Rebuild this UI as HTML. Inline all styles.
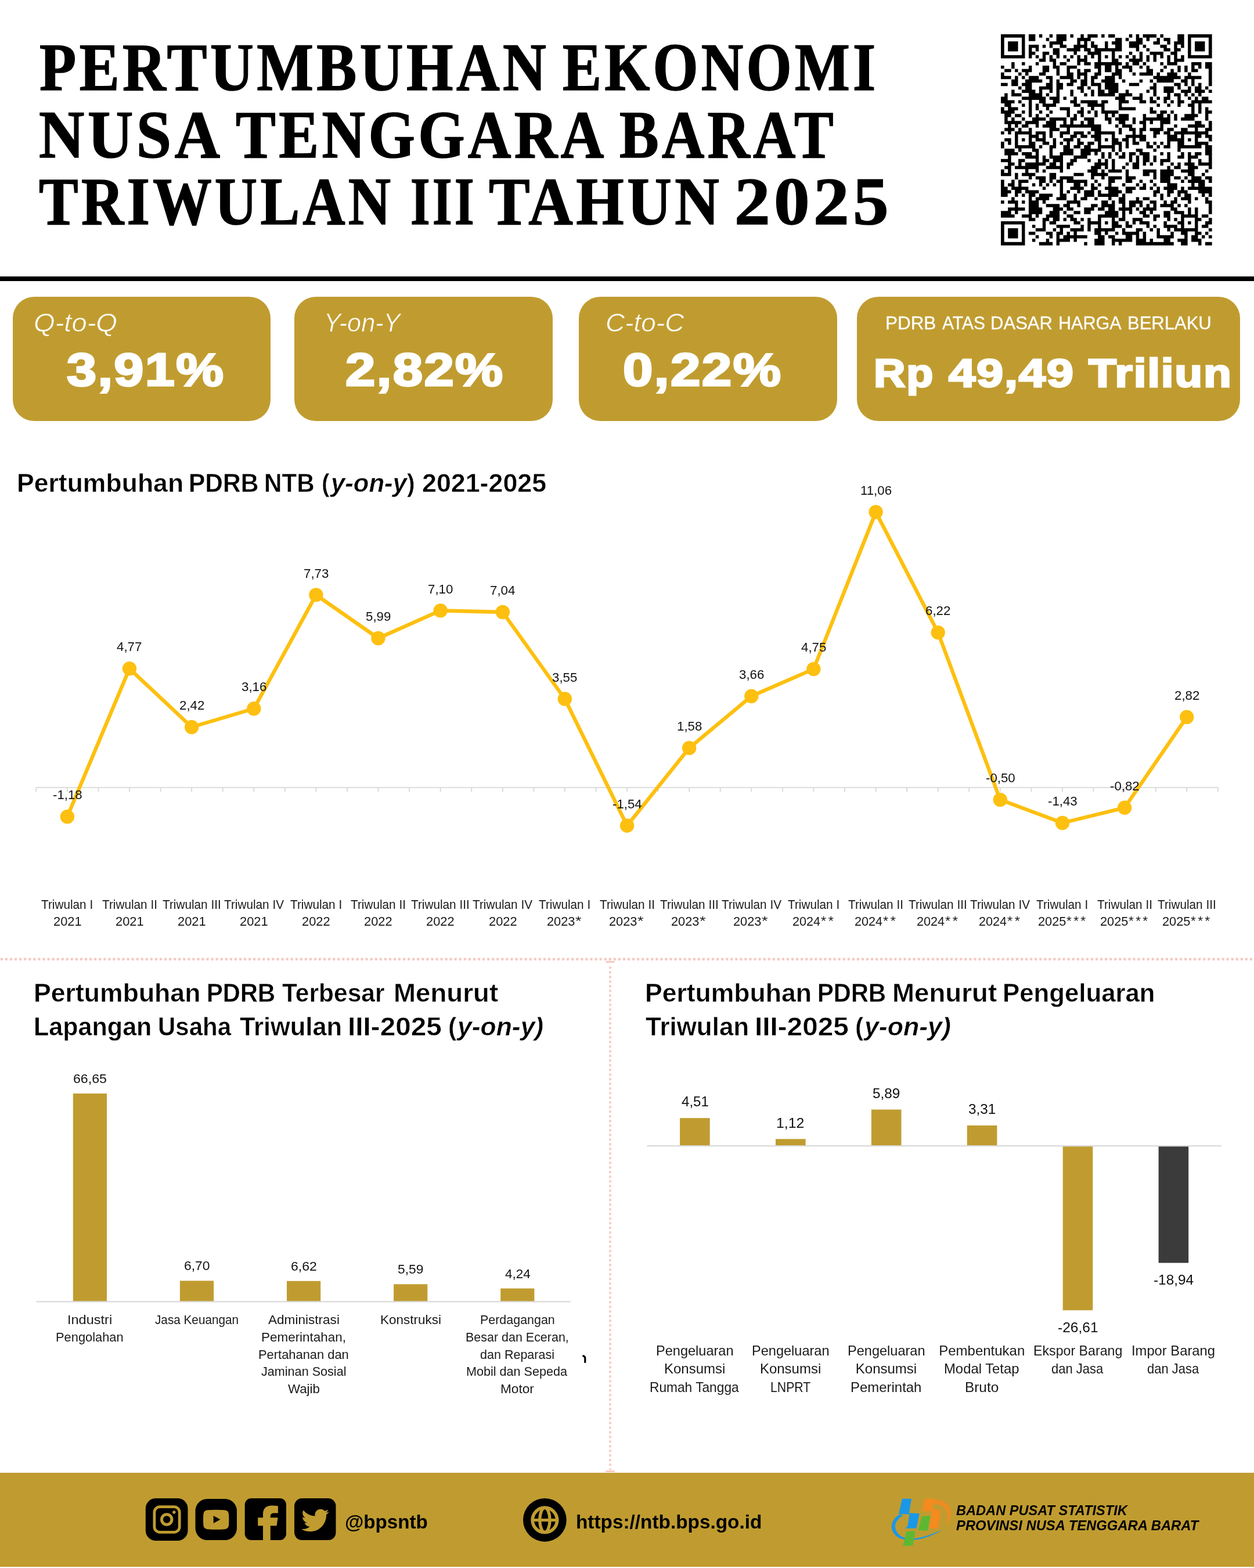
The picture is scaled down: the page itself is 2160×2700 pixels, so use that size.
<!DOCTYPE html>
<html lang="id">
<head>
<meta charset="utf-8">
<title>Pertumbuhan Ekonomi Nusa Tenggara Barat Triwulan III Tahun 2025</title>
<style>
html,body{margin:0;padding:0;background:#fff}
body{width:2160px;height:2700px;position:relative;overflow:hidden;font-family:'Liberation Sans',sans-serif;color:#000}
header,section,footer,h1,h2,p,figure{margin:0;padding:0;font-weight:400;font-size:0}
.t{position:absolute;white-space:nowrap;line-height:1;transform-origin:0 50%;display:block}
.r{position:absolute}
svg{position:absolute;left:0;top:0;overflow:visible}
</style>
</head>
<body>
<header>
<h1>
<span class="t" style="left:67.5px;top:58.4px;font-size:116.0px;font-family:'Liberation Serif',serif;font-weight:700;letter-spacing:6px;transform:scaleX(0.8930);-webkit-text-stroke:1.6px #000;stroke-linejoin:round;">PERTUMBUHAN</span>
<span class="t" style="left:969.4px;top:58.4px;font-size:116.0px;font-family:'Liberation Serif',serif;font-weight:700;letter-spacing:6px;transform:scaleX(0.8659);-webkit-text-stroke:1.6px #000;stroke-linejoin:round;">EKONOMI</span>
<span class="t" style="left:67.1px;top:173.5px;font-size:116.0px;font-family:'Liberation Serif',serif;font-weight:700;letter-spacing:6px;transform:scaleX(0.9344);-webkit-text-stroke:1.6px #000;stroke-linejoin:round;">NUSA</span>
<span class="t" style="left:406.2px;top:173.5px;font-size:116.0px;font-family:'Liberation Serif',serif;font-weight:700;letter-spacing:6px;transform:scaleX(0.8906);-webkit-text-stroke:1.6px #000;stroke-linejoin:round;">TENGGARA</span>
<span class="t" style="left:1066.8px;top:173.5px;font-size:116.0px;font-family:'Liberation Serif',serif;font-weight:700;letter-spacing:6px;transform:scaleX(0.8748);-webkit-text-stroke:1.6px #000;stroke-linejoin:round;">BARAT</span>
<span class="t" style="left:67.1px;top:289.4px;font-size:116.0px;font-family:'Liberation Serif',serif;font-weight:700;letter-spacing:6px;transform:scaleX(0.8746);-webkit-text-stroke:1.6px #000;stroke-linejoin:round;">TRIWULAN</span>
<span class="t" style="left:706.7px;top:289.4px;font-size:116.0px;font-family:'Liberation Serif',serif;font-weight:700;letter-spacing:6px;transform:scaleX(0.7427);-webkit-text-stroke:1.6px #000;stroke-linejoin:round;">III</span>
<span class="t" style="left:841.8px;top:289.4px;font-size:116.0px;font-family:'Liberation Serif',serif;font-weight:700;letter-spacing:6px;transform:scaleX(0.9138);-webkit-text-stroke:1.6px #000;stroke-linejoin:round;">TAHUN</span>
<span class="t" style="left:1265.2px;top:289.4px;font-size:116.0px;font-family:'Liberation Serif',serif;font-weight:700;letter-spacing:6px;transform:scaleX(1.0624);-webkit-text-stroke:1.6px #000;stroke-linejoin:round;">2025</span>
</h1>
<svg width="363.6" height="363.6" viewBox="0 0 61 61" style="left:1723.7px;top:58.7px"><rect width="61" height="61" fill="#000"/><path fill="#fff" d="M6.96 -0.50H8.04V1.04H6.96zM9.96 -0.50H11.04V1.04H9.96zM11.96 -0.50H14.04V1.04H11.96zM14.96 -0.50H16.04V1.04H14.96zM18.96 -0.50H20.04V1.04H18.96zM20.96 -0.50H23.04V1.04H20.96zM23.96 -0.50H25.04V1.04H23.96zM27.96 -0.50H29.04V1.04H27.96zM29.96 -0.50H31.04V1.04H29.96zM32.96 -0.50H37.04V1.04H32.96zM37.96 -0.50H39.04V1.04H37.96zM39.96 -0.50H41.04V1.04H39.96zM44.96 -0.50H46.04V1.04H44.96zM46.96 -0.50H51.04V1.04H46.96zM52.96 -0.50H54.04V1.04H52.96zM0.96 0.96H6.04V2.04H0.96zM6.96 0.96H8.04V2.04H6.96zM9.96 0.96H13.04V2.04H9.96zM13.96 0.96H16.04V2.04H13.96zM18.96 0.96H22.04V2.04H18.96zM25.96 0.96H33.04V2.04H25.96zM34.96 0.96H36.04V2.04H34.96zM36.96 0.96H39.04V2.04H36.96zM40.96 0.96H42.04V2.04H40.96zM42.96 0.96H45.04V2.04H42.96zM45.96 0.96H47.04V2.04H45.96zM48.96 0.96H51.04V2.04H48.96zM52.96 0.96H54.04V2.04H52.96zM54.96 0.96H60.04V2.04H54.96zM0.96 1.96H2.04V3.04H0.96zM4.96 1.96H6.04V3.04H4.96zM6.96 1.96H14.04V3.04H6.96zM17.96 1.96H22.04V3.04H17.96zM22.96 1.96H24.04V3.04H22.96zM24.96 1.96H26.04V3.04H24.96zM26.96 1.96H30.04V3.04H26.96zM30.96 1.96H32.04V3.04H30.96zM34.96 1.96H37.04V3.04H34.96zM40.96 1.96H44.04V3.04H40.96zM45.96 1.96H48.04V3.04H45.96zM48.96 1.96H50.04V3.04H48.96zM52.96 1.96H54.04V3.04H52.96zM54.96 1.96H56.04V3.04H54.96zM58.96 1.96H60.04V3.04H58.96zM0.96 2.96H2.04V4.04H0.96zM4.96 2.96H6.04V4.04H4.96zM6.96 2.96H8.04V4.04H6.96zM10.96 2.96H12.04V4.04H10.96zM12.96 2.96H14.04V4.04H12.96zM14.96 2.96H17.04V4.04H14.96zM18.96 2.96H21.04V4.04H18.96zM24.96 2.96H26.04V4.04H24.96zM27.96 2.96H30.04V4.04H27.96zM30.96 2.96H33.04V4.04H30.96zM34.96 2.96H37.04V4.04H34.96zM39.96 2.96H41.04V4.04H39.96zM41.96 2.96H46.04V4.04H41.96zM47.96 2.96H50.04V4.04H47.96zM50.96 2.96H52.04V4.04H50.96zM52.96 2.96H54.04V4.04H52.96zM54.96 2.96H56.04V4.04H54.96zM58.96 2.96H60.04V4.04H58.96zM0.96 3.96H2.04V5.04H0.96zM4.96 3.96H6.04V5.04H4.96zM6.96 3.96H8.04V5.04H6.96zM8.96 3.96H10.04V5.04H8.96zM10.96 3.96H15.04V5.04H10.96zM16.96 3.96H19.04V5.04H16.96zM22.96 3.96H24.04V5.04H22.96zM25.96 3.96H27.04V5.04H25.96zM34.96 3.96H39.04V5.04H34.96zM39.96 3.96H42.04V5.04H39.96zM42.96 3.96H47.04V5.04H42.96zM48.96 3.96H50.04V5.04H48.96zM51.96 3.96H54.04V5.04H51.96zM54.96 3.96H56.04V5.04H54.96zM58.96 3.96H60.04V5.04H58.96zM0.96 4.96H6.04V6.04H0.96zM6.96 4.96H8.04V6.04H6.96zM9.96 4.96H12.04V6.04H9.96zM13.96 4.96H15.04V6.04H13.96zM16.96 4.96H21.04V6.04H16.96zM21.96 4.96H25.04V6.04H21.96zM28.96 4.96H32.04V6.04H28.96zM32.96 4.96H37.04V6.04H32.96zM37.96 4.96H40.04V6.04H37.96zM40.96 4.96H43.04V6.04H40.96zM46.96 4.96H49.04V6.04H46.96zM50.96 4.96H54.04V6.04H50.96zM54.96 4.96H60.04V6.04H54.96zM6.96 5.96H8.04V7.04H6.96zM8.96 5.96H10.04V7.04H8.96zM10.96 5.96H12.04V7.04H10.96zM12.96 5.96H14.04V7.04H12.96zM14.96 5.96H16.04V7.04H14.96zM16.96 5.96H18.04V7.04H16.96zM18.96 5.96H20.04V7.04H18.96zM20.96 5.96H22.04V7.04H20.96zM22.96 5.96H24.04V7.04H22.96zM24.96 5.96H26.04V7.04H24.96zM26.96 5.96H28.04V7.04H26.96zM28.96 5.96H30.04V7.04H28.96zM30.96 5.96H32.04V7.04H30.96zM32.96 5.96H34.04V7.04H32.96zM34.96 5.96H36.04V7.04H34.96zM36.96 5.96H38.04V7.04H36.96zM38.96 5.96H40.04V7.04H38.96zM40.96 5.96H42.04V7.04H40.96zM42.96 5.96H44.04V7.04H42.96zM44.96 5.96H46.04V7.04H44.96zM46.96 5.96H48.04V7.04H46.96zM48.96 5.96H50.04V7.04H48.96zM50.96 5.96H52.04V7.04H50.96zM52.96 5.96H54.04V7.04H52.96zM-0.50 6.96H11.04V8.04H-0.50zM12.96 6.96H14.04V8.04H12.96zM15.96 6.96H19.04V8.04H15.96zM19.96 6.96H22.04V8.04H19.96zM24.96 6.96H28.04V8.04H24.96zM28.96 6.96H32.04V8.04H28.96zM33.96 6.96H37.04V8.04H33.96zM40.96 6.96H42.04V8.04H40.96zM42.96 6.96H44.04V8.04H42.96zM44.96 6.96H48.04V8.04H44.96zM48.96 6.96H50.04V8.04H48.96zM52.96 6.96H61.50V8.04H52.96zM-0.50 7.96H3.04V9.04H-0.50zM3.96 7.96H6.04V9.04H3.96zM6.96 7.96H10.04V9.04H6.96zM10.96 7.96H15.04V9.04H10.96zM15.96 7.96H17.04V9.04H15.96zM18.96 7.96H22.04V9.04H18.96zM22.96 7.96H24.04V9.04H22.96zM25.96 7.96H27.04V9.04H25.96zM34.96 7.96H36.04V9.04H34.96zM36.96 7.96H38.04V9.04H36.96zM39.96 7.96H41.04V9.04H39.96zM41.96 7.96H46.04V9.04H41.96zM46.96 7.96H48.04V9.04H46.96zM50.96 7.96H55.04V9.04H50.96zM57.96 7.96H59.04V9.04H57.96zM0.96 8.96H3.04V10.04H0.96zM3.96 8.96H8.04V10.04H3.96zM8.96 8.96H12.04V10.04H8.96zM13.96 8.96H15.04V10.04H13.96zM16.96 8.96H19.04V10.04H16.96zM21.96 8.96H27.04V10.04H21.96zM28.96 8.96H30.04V10.04H28.96zM31.96 8.96H33.04V10.04H31.96zM33.96 8.96H35.04V10.04H33.96zM37.96 8.96H40.04V10.04H37.96zM40.96 8.96H42.04V10.04H40.96zM42.96 8.96H47.04V10.04H42.96zM47.96 8.96H51.04V10.04H47.96zM51.96 8.96H53.04V10.04H51.96zM53.96 8.96H55.04V10.04H53.96zM55.96 8.96H57.04V10.04H55.96zM57.96 8.96H59.04V10.04H57.96zM-0.50 9.96H1.04V11.04H-0.50zM2.96 9.96H4.04V11.04H2.96zM4.96 9.96H6.04V11.04H4.96zM8.96 9.96H12.04V11.04H8.96zM13.96 9.96H16.04V11.04H13.96zM16.96 9.96H19.04V11.04H16.96zM19.96 9.96H22.04V11.04H19.96zM22.96 9.96H24.04V11.04H22.96zM25.96 9.96H28.04V11.04H25.96zM28.96 9.96H30.04V11.04H28.96zM31.96 9.96H33.04V11.04H31.96zM34.96 9.96H37.04V11.04H34.96zM37.96 9.96H42.04V11.04H37.96zM43.96 9.96H46.04V11.04H43.96zM46.96 9.96H49.04V11.04H46.96zM49.96 9.96H51.04V11.04H49.96zM51.96 9.96H53.04V11.04H51.96zM53.96 9.96H55.04V11.04H53.96zM56.96 9.96H60.04V11.04H56.96zM0.96 10.96H5.04V12.04H0.96zM5.96 10.96H7.04V12.04H5.96zM7.96 10.96H11.04V12.04H7.96zM12.96 10.96H16.04V12.04H12.96zM16.96 10.96H19.04V12.04H16.96zM20.96 10.96H22.04V12.04H20.96zM24.96 10.96H27.04V12.04H24.96zM28.96 10.96H32.04V12.04H28.96zM34.96 10.96H38.04V12.04H34.96zM38.96 10.96H40.04V12.04H38.96zM43.96 10.96H45.04V12.04H43.96zM45.96 10.96H48.04V12.04H45.96zM50.96 10.96H54.04V12.04H50.96zM54.96 10.96H60.04V12.04H54.96zM2.96 11.96H4.04V13.04H2.96zM4.96 11.96H6.04V13.04H4.96zM6.96 11.96H8.04V13.04H6.96zM10.96 11.96H13.04V13.04H10.96zM14.96 11.96H17.04V13.04H14.96zM20.96 11.96H22.04V13.04H20.96zM22.96 11.96H24.04V13.04H22.96zM24.96 11.96H26.04V13.04H24.96zM27.96 11.96H30.04V13.04H27.96zM32.96 11.96H34.04V13.04H32.96zM34.96 11.96H44.04V13.04H34.96zM51.96 11.96H53.04V13.04H51.96zM57.96 11.96H60.04V13.04H57.96zM-0.50 12.96H3.04V14.04H-0.50zM4.96 12.96H7.04V14.04H4.96zM11.96 12.96H14.04V14.04H11.96zM14.96 12.96H16.04V14.04H14.96zM16.96 12.96H20.04V14.04H16.96zM21.96 12.96H23.04V14.04H21.96zM24.96 12.96H26.04V14.04H24.96zM26.96 12.96H29.04V14.04H26.96zM32.96 12.96H35.04V14.04H32.96zM35.96 12.96H40.04V14.04H35.96zM40.96 12.96H43.04V14.04H40.96zM43.96 12.96H45.04V14.04H43.96zM49.96 12.96H52.04V14.04H49.96zM53.96 12.96H55.04V14.04H53.96zM55.96 12.96H60.04V14.04H55.96zM1.96 13.96H3.04V15.04H1.96zM4.96 13.96H6.04V15.04H4.96zM8.96 13.96H13.04V15.04H8.96zM14.96 13.96H16.04V15.04H14.96zM17.96 13.96H19.04V15.04H17.96zM20.96 13.96H23.04V15.04H20.96zM24.96 13.96H26.04V15.04H24.96zM28.96 13.96H30.04V15.04H28.96zM33.96 13.96H37.04V15.04H33.96zM39.96 13.96H44.04V15.04H39.96zM44.96 13.96H50.04V15.04H44.96zM51.96 13.96H53.04V15.04H51.96zM53.96 13.96H55.04V15.04H53.96zM55.96 13.96H57.04V15.04H55.96zM57.96 13.96H60.04V15.04H57.96zM-0.50 14.96H5.04V16.04H-0.50zM5.96 14.96H7.04V16.04H5.96zM8.96 14.96H11.04V16.04H8.96zM14.96 14.96H16.04V16.04H14.96zM17.96 14.96H22.04V16.04H17.96zM23.96 14.96H25.04V16.04H23.96zM25.96 14.96H28.04V16.04H25.96zM28.96 14.96H30.04V16.04H28.96zM33.96 14.96H43.04V16.04H33.96zM44.96 14.96H47.04V16.04H44.96zM49.96 14.96H51.04V16.04H49.96zM51.96 14.96H54.04V16.04H51.96zM54.96 14.96H56.04V16.04H54.96zM57.96 14.96H59.04V16.04H57.96zM59.96 14.96H61.50V16.04H59.96zM-0.50 15.96H3.04V17.04H-0.50zM3.96 15.96H6.04V17.04H3.96zM9.96 15.96H11.04V17.04H9.96zM11.96 15.96H14.04V17.04H11.96zM14.96 15.96H16.04V17.04H14.96zM16.96 15.96H20.04V17.04H16.96zM20.96 15.96H23.04V17.04H20.96zM23.96 15.96H26.04V17.04H23.96zM26.96 15.96H28.04V17.04H26.96zM29.96 15.96H31.04V17.04H29.96zM33.96 15.96H36.04V17.04H33.96zM36.96 15.96H42.04V17.04H36.96zM42.96 15.96H44.04V17.04H42.96zM44.96 15.96H47.04V17.04H44.96zM49.96 15.96H52.04V17.04H49.96zM54.96 15.96H56.04V17.04H54.96zM58.96 15.96H60.04V17.04H58.96zM-0.50 16.96H1.04V18.04H-0.50zM1.96 16.96H3.04V18.04H1.96zM5.96 16.96H8.04V18.04H5.96zM11.96 16.96H13.04V18.04H11.96zM13.96 16.96H16.04V18.04H13.96zM16.96 16.96H20.04V18.04H16.96zM20.96 16.96H24.04V18.04H20.96zM24.96 16.96H26.04V18.04H24.96zM26.96 16.96H28.04V18.04H26.96zM32.96 16.96H34.04V18.04H32.96zM37.96 16.96H40.04V18.04H37.96zM40.96 16.96H44.04V18.04H40.96zM44.96 16.96H48.04V18.04H44.96zM48.96 16.96H50.04V18.04H48.96zM51.96 16.96H53.04V18.04H51.96zM53.96 16.96H55.04V18.04H53.96zM55.96 16.96H57.04V18.04H55.96zM57.96 16.96H61.50V18.04H57.96zM1.96 17.96H6.04V19.04H1.96zM12.96 17.96H14.04V19.04H12.96zM16.96 17.96H18.04V19.04H16.96zM18.96 17.96H21.04V19.04H18.96zM21.96 17.96H33.04V19.04H21.96zM35.96 17.96H38.04V19.04H35.96zM40.96 17.96H43.04V19.04H40.96zM43.96 17.96H45.04V19.04H43.96zM45.96 17.96H47.04V19.04H45.96zM48.96 17.96H51.04V19.04H48.96zM51.96 17.96H54.04V19.04H51.96zM54.96 17.96H56.04V19.04H54.96zM56.96 17.96H58.04V19.04H56.96zM59.96 17.96H61.50V19.04H59.96zM3.96 18.96H5.04V20.04H3.96zM5.96 18.96H8.04V20.04H5.96zM8.96 18.96H11.04V20.04H8.96zM12.96 18.96H15.04V20.04H12.96zM16.96 18.96H20.04V20.04H16.96zM21.96 18.96H23.04V20.04H21.96zM27.96 18.96H29.04V20.04H27.96zM30.96 18.96H34.04V20.04H30.96zM36.96 18.96H40.04V20.04H36.96zM41.96 18.96H43.04V20.04H41.96zM44.96 18.96H47.04V20.04H44.96zM47.96 18.96H49.04V20.04H47.96zM49.96 18.96H51.04V20.04H49.96zM52.96 18.96H55.04V20.04H52.96zM-0.50 19.96H1.04V21.04H-0.50zM2.96 19.96H6.04V21.04H2.96zM6.96 19.96H8.04V21.04H6.96zM8.96 19.96H10.04V21.04H8.96zM10.96 19.96H12.04V21.04H10.96zM15.96 19.96H21.04V21.04H15.96zM22.96 19.96H25.04V21.04H22.96zM29.96 19.96H34.04V21.04H29.96zM34.96 19.96H45.04V21.04H34.96zM45.96 19.96H48.04V21.04H45.96zM48.96 19.96H51.04V21.04H48.96zM51.96 19.96H54.04V21.04H51.96zM55.96 19.96H57.04V21.04H55.96zM57.96 19.96H61.50V21.04H57.96zM0.96 20.96H2.04V22.04H0.96zM4.96 20.96H8.04V22.04H4.96zM8.96 20.96H10.04V22.04H8.96zM10.96 20.96H13.04V22.04H10.96zM13.96 20.96H17.04V22.04H13.96zM19.96 20.96H23.04V22.04H19.96zM23.96 20.96H26.04V22.04H23.96zM26.96 20.96H29.04V22.04H26.96zM29.96 20.96H34.04V22.04H29.96zM38.96 20.96H43.04V22.04H38.96zM43.96 20.96H55.04V22.04H43.96zM55.96 20.96H57.04V22.04H55.96zM57.96 20.96H59.04V22.04H57.96zM59.96 20.96H61.50V22.04H59.96zM3.96 21.96H6.04V23.04H3.96zM6.96 21.96H8.04V23.04H6.96zM8.96 21.96H11.04V23.04H8.96zM11.96 21.96H14.04V23.04H11.96zM14.96 21.96H19.04V23.04H14.96zM19.96 21.96H22.04V23.04H19.96zM23.96 21.96H25.04V23.04H23.96zM25.96 21.96H27.04V23.04H25.96zM27.96 21.96H29.04V23.04H27.96zM33.96 21.96H43.04V23.04H33.96zM44.96 21.96H46.04V23.04H44.96zM47.96 21.96H49.04V23.04H47.96zM49.96 21.96H55.04V23.04H49.96zM55.96 21.96H57.04V23.04H55.96zM57.96 21.96H59.04V23.04H57.96zM-0.50 22.96H1.04V24.04H-0.50zM2.96 22.96H4.04V24.04H2.96zM5.96 22.96H8.04V24.04H5.96zM8.96 22.96H10.04V24.04H8.96zM10.96 22.96H13.04V24.04H10.96zM13.96 22.96H19.04V24.04H13.96zM19.96 22.96H21.04V24.04H19.96zM21.96 22.96H23.04V24.04H21.96zM23.96 22.96H27.04V24.04H23.96zM27.96 22.96H30.04V24.04H27.96zM30.96 22.96H32.04V24.04H30.96zM32.96 22.96H34.04V24.04H32.96zM36.96 22.96H41.04V24.04H36.96zM41.96 22.96H45.04V24.04H41.96zM46.96 22.96H48.04V24.04H46.96zM48.96 22.96H50.04V24.04H48.96zM50.96 22.96H53.04V24.04H50.96zM56.96 22.96H59.04V24.04H56.96zM59.96 22.96H61.50V24.04H59.96zM-0.50 23.96H1.04V25.04H-0.50zM1.96 23.96H3.04V25.04H1.96zM3.96 23.96H6.04V25.04H3.96zM6.96 23.96H9.04V25.04H6.96zM12.96 23.96H14.04V25.04H12.96zM18.96 23.96H20.04V25.04H18.96zM21.96 23.96H24.04V25.04H21.96zM26.96 23.96H30.04V25.04H26.96zM31.96 23.96H33.04V25.04H31.96zM36.96 23.96H38.04V25.04H36.96zM38.96 23.96H41.04V25.04H38.96zM48.96 23.96H50.04V25.04H48.96zM50.96 23.96H52.04V25.04H50.96zM55.96 23.96H59.04V25.04H55.96zM59.96 23.96H61.50V25.04H59.96zM-0.50 24.96H1.04V26.04H-0.50zM5.96 24.96H7.04V26.04H5.96zM10.96 24.96H13.04V26.04H10.96zM15.96 24.96H18.04V26.04H15.96zM18.96 24.96H20.04V26.04H18.96zM20.96 24.96H23.04V26.04H20.96zM23.96 24.96H25.04V26.04H23.96zM26.96 24.96H31.04V26.04H26.96zM31.96 24.96H34.04V26.04H31.96zM35.96 24.96H38.04V26.04H35.96zM38.96 24.96H40.04V26.04H38.96zM41.96 24.96H43.04V26.04H41.96zM43.96 24.96H46.04V26.04H43.96zM48.96 24.96H56.04V26.04H48.96zM57.96 24.96H60.04V26.04H57.96zM-0.50 25.96H2.04V27.04H-0.50zM2.96 25.96H4.04V27.04H2.96zM4.96 25.96H6.04V27.04H4.96zM7.96 25.96H10.04V27.04H7.96zM10.96 25.96H12.04V27.04H10.96zM15.96 25.96H17.04V27.04H15.96zM28.96 25.96H33.04V27.04H28.96zM33.96 25.96H35.04V27.04H33.96zM37.96 25.96H41.04V27.04H37.96zM41.96 25.96H46.04V27.04H41.96zM46.96 25.96H50.04V27.04H46.96zM50.96 25.96H54.04V27.04H50.96zM58.96 25.96H60.04V27.04H58.96zM-0.50 26.96H1.04V28.04H-0.50zM3.96 26.96H5.04V28.04H3.96zM5.96 26.96H8.04V28.04H5.96zM8.96 26.96H14.04V28.04H8.96zM16.96 26.96H19.04V28.04H16.96zM19.96 26.96H26.04V28.04H19.96zM28.96 26.96H34.04V28.04H28.96zM34.96 26.96H37.04V28.04H34.96zM38.96 26.96H40.04V28.04H38.96zM41.96 26.96H43.04V28.04H41.96zM46.96 26.96H48.04V28.04H46.96zM49.96 26.96H52.04V28.04H49.96zM53.96 26.96H56.04V28.04H53.96zM56.96 26.96H59.04V28.04H56.96zM0.96 27.96H2.04V29.04H0.96zM2.96 27.96H4.04V29.04H2.96zM8.96 27.96H10.04V29.04H8.96zM12.96 27.96H14.04V29.04H12.96zM14.96 27.96H17.04V29.04H14.96zM19.96 27.96H21.04V29.04H19.96zM23.96 27.96H25.04V29.04H23.96zM25.96 27.96H27.04V29.04H25.96zM32.96 27.96H34.04V29.04H32.96zM34.96 27.96H38.04V29.04H34.96zM38.96 27.96H40.04V29.04H38.96zM40.96 27.96H44.04V29.04H40.96zM45.96 27.96H47.04V29.04H45.96zM48.96 27.96H50.04V29.04H48.96zM59.96 27.96H61.50V29.04H59.96zM-0.50 28.96H4.04V30.04H-0.50zM4.96 28.96H8.04V30.04H4.96zM10.96 28.96H12.04V30.04H10.96zM12.96 28.96H14.04V30.04H12.96zM14.96 28.96H17.04V30.04H14.96zM17.96 28.96H20.04V30.04H17.96zM21.96 28.96H23.04V30.04H21.96zM24.96 28.96H26.04V30.04H24.96zM28.96 28.96H32.04V30.04H28.96zM32.96 28.96H36.04V30.04H32.96zM41.96 28.96H44.04V30.04H41.96zM44.96 28.96H48.04V30.04H44.96zM50.96 28.96H52.04V30.04H50.96zM52.96 28.96H56.04V30.04H52.96zM57.96 28.96H59.04V30.04H57.96zM-0.50 29.96H1.04V31.04H-0.50zM2.96 29.96H4.04V31.04H2.96zM4.96 29.96H6.04V31.04H4.96zM6.96 29.96H8.04V31.04H6.96zM8.96 29.96H10.04V31.04H8.96zM12.96 29.96H15.04V31.04H12.96zM15.96 29.96H18.04V31.04H15.96zM20.96 29.96H22.04V31.04H20.96zM22.96 29.96H27.04V31.04H22.96zM28.96 29.96H30.04V31.04H28.96zM30.96 29.96H32.04V31.04H30.96zM33.96 29.96H35.04V31.04H33.96zM36.96 29.96H38.04V31.04H36.96zM38.96 29.96H40.04V31.04H38.96zM41.96 29.96H48.04V31.04H41.96zM52.96 29.96H54.04V31.04H52.96zM54.96 29.96H56.04V31.04H54.96zM56.96 29.96H60.04V31.04H56.96zM0.96 30.96H2.04V32.04H0.96zM2.96 30.96H4.04V32.04H2.96zM4.96 30.96H8.04V32.04H4.96zM9.96 30.96H12.04V32.04H9.96zM13.96 30.96H15.04V32.04H13.96zM15.96 30.96H17.04V32.04H15.96zM17.96 30.96H19.04V32.04H17.96zM19.96 30.96H22.04V32.04H19.96zM23.96 30.96H25.04V32.04H23.96zM26.96 30.96H28.04V32.04H26.96zM28.96 30.96H32.04V32.04H28.96zM34.96 30.96H36.04V32.04H34.96zM36.96 30.96H38.04V32.04H36.96zM39.96 30.96H42.04V32.04H39.96zM42.96 30.96H44.04V32.04H42.96zM44.96 30.96H46.04V32.04H44.96zM46.96 30.96H48.04V32.04H46.96zM48.96 30.96H51.04V32.04H48.96zM52.96 30.96H56.04V32.04H52.96zM59.96 30.96H61.50V32.04H59.96zM0.96 31.96H4.04V33.04H0.96zM9.96 31.96H11.04V33.04H9.96zM11.96 31.96H14.04V33.04H11.96zM15.96 31.96H18.04V33.04H15.96zM19.96 31.96H21.04V33.04H19.96zM22.96 31.96H24.04V33.04H22.96zM25.96 31.96H28.04V33.04H25.96zM32.96 31.96H34.04V33.04H32.96zM34.96 31.96H36.04V33.04H34.96zM36.96 31.96H42.04V33.04H36.96zM43.96 31.96H45.04V33.04H43.96zM45.96 31.96H47.04V33.04H45.96zM48.96 31.96H51.04V33.04H48.96zM57.96 31.96H59.04V33.04H57.96zM-0.50 32.96H1.04V34.04H-0.50zM3.96 32.96H5.04V34.04H3.96zM5.96 32.96H9.04V34.04H5.96zM10.96 32.96H14.04V34.04H10.96zM14.96 32.96H18.04V34.04H14.96zM20.96 32.96H23.04V34.04H20.96zM28.96 32.96H32.04V34.04H28.96zM32.96 32.96H34.04V34.04H32.96zM34.96 32.96H39.04V34.04H34.96zM40.96 32.96H44.04V34.04H40.96zM44.96 32.96H51.04V34.04H44.96zM51.96 32.96H59.04V34.04H51.96zM-0.50 33.96H1.04V35.04H-0.50zM4.96 33.96H6.04V35.04H4.96zM8.96 33.96H10.04V35.04H8.96zM10.96 33.96H14.04V35.04H10.96zM14.96 33.96H17.04V35.04H14.96zM20.96 33.96H23.04V35.04H20.96zM25.96 33.96H27.04V35.04H25.96zM27.96 33.96H29.04V35.04H27.96zM29.96 33.96H31.04V35.04H29.96zM31.96 33.96H33.04V35.04H31.96zM33.96 33.96H35.04V35.04H33.96zM35.96 33.96H37.04V35.04H35.96zM38.96 33.96H40.04V35.04H38.96zM42.96 33.96H46.04V35.04H42.96zM46.96 33.96H48.04V35.04H46.96zM48.96 33.96H52.04V35.04H48.96zM52.96 33.96H54.04V35.04H52.96zM54.96 33.96H56.04V35.04H54.96zM57.96 33.96H59.04V35.04H57.96zM-0.50 34.96H2.04V36.04H-0.50zM2.96 34.96H7.04V36.04H2.96zM10.96 34.96H12.04V36.04H10.96zM12.96 34.96H14.04V36.04H12.96zM17.96 34.96H21.04V36.04H17.96zM24.96 34.96H29.04V36.04H24.96zM29.96 34.96H31.04V36.04H29.96zM31.96 34.96H34.04V36.04H31.96zM35.96 34.96H37.04V36.04H35.96zM37.96 34.96H39.04V36.04H37.96zM39.96 34.96H41.04V36.04H39.96zM42.96 34.96H44.04V36.04H42.96zM44.96 34.96H48.04V36.04H44.96zM48.96 34.96H51.04V36.04H48.96zM52.96 34.96H54.04V36.04H52.96zM56.96 34.96H60.04V36.04H56.96zM2.96 35.96H5.04V37.04H2.96zM6.96 35.96H10.04V37.04H6.96zM10.96 35.96H12.04V37.04H10.96zM13.96 35.96H15.04V37.04H13.96zM17.96 35.96H20.04V37.04H17.96zM21.96 35.96H25.04V37.04H21.96zM25.96 35.96H28.04V37.04H25.96zM28.96 35.96H30.04V37.04H28.96zM30.96 35.96H32.04V37.04H30.96zM32.96 35.96H37.04V37.04H32.96zM37.96 35.96H39.04V37.04H37.96zM39.96 35.96H41.04V37.04H39.96zM42.96 35.96H44.04V37.04H42.96zM44.96 35.96H46.04V37.04H44.96zM48.96 35.96H54.04V37.04H48.96zM54.96 35.96H57.04V37.04H54.96zM57.96 35.96H60.04V37.04H57.96zM-0.50 36.96H2.04V38.04H-0.50zM3.96 36.96H5.04V38.04H3.96zM5.96 36.96H7.04V38.04H5.96zM12.96 36.96H14.04V38.04H12.96zM15.96 36.96H17.04V38.04H15.96zM17.96 36.96H19.04V38.04H17.96zM20.96 36.96H27.04V38.04H20.96zM30.96 36.96H32.04V38.04H30.96zM32.96 36.96H36.04V38.04H32.96zM36.96 36.96H38.04V38.04H36.96zM39.96 36.96H41.04V38.04H39.96zM41.96 36.96H43.04V38.04H41.96zM43.96 36.96H46.04V38.04H43.96zM46.96 36.96H49.04V38.04H46.96zM49.96 36.96H51.04V38.04H49.96zM51.96 36.96H53.04V38.04H51.96zM55.96 36.96H57.04V38.04H55.96zM-0.50 37.96H1.04V39.04H-0.50zM2.96 37.96H4.04V39.04H2.96zM10.96 37.96H13.04V39.04H10.96zM17.96 37.96H19.04V39.04H17.96zM19.96 37.96H26.04V39.04H19.96zM28.96 37.96H30.04V39.04H28.96zM30.96 37.96H32.04V39.04H30.96zM32.96 37.96H35.04V39.04H32.96zM35.96 37.96H38.04V39.04H35.96zM39.96 37.96H48.04V39.04H39.96zM48.96 37.96H50.04V39.04H48.96zM51.96 37.96H54.04V39.04H51.96zM56.96 37.96H60.04V39.04H56.96zM0.96 38.96H2.04V40.04H0.96zM2.96 38.96H7.04V40.04H2.96zM7.96 38.96H10.04V40.04H7.96zM10.96 38.96H12.04V40.04H10.96zM12.96 38.96H17.04V40.04H12.96zM17.96 38.96H25.04V40.04H17.96zM27.96 38.96H29.04V40.04H27.96zM29.96 38.96H31.04V40.04H29.96zM34.96 38.96H36.04V40.04H34.96zM36.96 38.96H41.04V40.04H36.96zM44.96 38.96H46.04V40.04H44.96zM49.96 38.96H52.04V40.04H49.96zM55.96 38.96H59.04V40.04H55.96zM59.96 38.96H61.50V40.04H59.96zM2.96 39.96H4.04V41.04H2.96zM4.96 39.96H6.04V41.04H4.96zM9.96 39.96H14.04V41.04H9.96zM15.96 39.96H21.04V41.04H15.96zM23.96 39.96H26.04V41.04H23.96zM30.96 39.96H36.04V41.04H30.96zM36.96 39.96H41.04V41.04H36.96zM42.96 39.96H44.04V41.04H42.96zM44.96 39.96H46.04V41.04H44.96zM49.96 39.96H54.04V41.04H49.96zM55.96 39.96H58.04V41.04H55.96zM58.96 39.96H61.50V41.04H58.96zM-0.50 40.96H4.04V42.04H-0.50zM4.96 40.96H8.04V42.04H4.96zM8.96 40.96H10.04V42.04H8.96zM12.96 40.96H14.04V42.04H12.96zM15.96 40.96H17.04V42.04H15.96zM20.96 40.96H26.04V42.04H20.96zM26.96 40.96H29.04V42.04H26.96zM29.96 40.96H31.04V42.04H29.96zM34.96 40.96H36.04V42.04H34.96zM38.96 40.96H44.04V42.04H38.96zM44.96 40.96H46.04V42.04H44.96zM48.96 40.96H50.04V42.04H48.96zM51.96 40.96H53.04V42.04H51.96zM53.96 40.96H55.04V42.04H53.96zM57.96 40.96H59.04V42.04H57.96zM0.96 41.96H3.04V43.04H0.96zM3.96 41.96H5.04V43.04H3.96zM7.96 41.96H11.04V43.04H7.96zM12.96 41.96H14.04V43.04H12.96zM14.96 41.96H16.04V43.04H14.96zM17.96 41.96H19.04V43.04H17.96zM24.96 41.96H27.04V43.04H24.96zM27.96 41.96H31.04V43.04H27.96zM32.96 41.96H36.04V43.04H32.96zM37.96 41.96H40.04V43.04H37.96zM40.96 41.96H43.04V43.04H40.96zM43.96 41.96H46.04V43.04H43.96zM48.96 41.96H52.04V43.04H48.96zM52.96 41.96H54.04V43.04H52.96zM58.96 41.96H60.04V43.04H58.96zM0.96 42.96H2.04V44.04H0.96zM3.96 42.96H5.04V44.04H3.96zM5.96 42.96H9.04V44.04H5.96zM9.96 42.96H11.04V44.04H9.96zM11.96 42.96H13.04V44.04H11.96zM13.96 42.96H15.04V44.04H13.96zM15.96 42.96H17.04V44.04H15.96zM17.96 42.96H21.04V44.04H17.96zM22.96 42.96H24.04V44.04H22.96zM24.96 42.96H26.04V44.04H24.96zM26.96 42.96H28.04V44.04H26.96zM28.96 42.96H31.04V44.04H28.96zM31.96 42.96H35.04V44.04H31.96zM35.96 42.96H39.04V44.04H35.96zM39.96 42.96H41.04V44.04H39.96zM41.96 42.96H44.04V44.04H41.96zM44.96 42.96H48.04V44.04H44.96zM50.96 42.96H55.04V44.04H50.96zM55.96 42.96H57.04V44.04H55.96zM58.96 42.96H61.50V44.04H58.96zM1.96 43.96H3.04V45.04H1.96zM7.96 43.96H12.04V45.04H7.96zM12.96 43.96H17.04V45.04H12.96zM17.96 43.96H20.04V45.04H17.96zM23.96 43.96H26.04V45.04H23.96zM27.96 43.96H30.04V45.04H27.96zM33.96 43.96H36.04V45.04H33.96zM38.96 43.96H40.04V45.04H38.96zM41.96 43.96H43.04V45.04H41.96zM43.96 43.96H45.04V45.04H43.96zM45.96 43.96H47.04V45.04H45.96zM50.96 43.96H52.04V45.04H50.96zM52.96 43.96H54.04V45.04H52.96zM2.96 44.96H4.04V46.04H2.96zM5.96 44.96H7.04V46.04H5.96zM10.96 44.96H17.04V46.04H10.96zM17.96 44.96H19.04V46.04H17.96zM19.96 44.96H22.04V46.04H19.96zM22.96 44.96H24.04V46.04H22.96zM26.96 44.96H28.04V46.04H26.96zM28.96 44.96H31.04V46.04H28.96zM34.96 44.96H36.04V46.04H34.96zM37.96 44.96H44.04V46.04H37.96zM45.96 44.96H48.04V46.04H45.96zM49.96 44.96H51.04V46.04H49.96zM53.96 44.96H57.04V46.04H53.96zM1.96 45.96H4.04V47.04H1.96zM4.96 45.96H6.04V47.04H4.96zM6.96 45.96H8.04V47.04H6.96zM9.96 45.96H11.04V47.04H9.96zM14.96 45.96H17.04V47.04H14.96zM18.96 45.96H21.04V47.04H18.96zM21.96 45.96H24.04V47.04H21.96zM26.96 45.96H28.04V47.04H26.96zM33.96 45.96H35.04V47.04H33.96zM35.96 45.96H44.04V47.04H35.96zM44.96 45.96H46.04V47.04H44.96zM46.96 45.96H48.04V47.04H46.96zM48.96 45.96H51.04V47.04H48.96zM51.96 45.96H53.04V47.04H51.96zM54.96 45.96H58.04V47.04H54.96zM58.96 45.96H60.04V47.04H58.96zM-0.50 46.96H3.04V48.04H-0.50zM3.96 46.96H8.04V48.04H3.96zM8.96 46.96H10.04V48.04H8.96zM13.96 46.96H16.04V48.04H13.96zM18.96 46.96H21.04V48.04H18.96zM21.96 46.96H23.04V48.04H21.96zM24.96 46.96H27.04V48.04H24.96zM27.96 46.96H31.04V48.04H27.96zM31.96 46.96H34.04V48.04H31.96zM35.96 46.96H39.04V48.04H35.96zM39.96 46.96H41.04V48.04H39.96zM42.96 46.96H46.04V48.04H42.96zM46.96 46.96H50.04V48.04H46.96zM50.96 46.96H52.04V48.04H50.96zM54.96 46.96H56.04V48.04H54.96zM56.96 46.96H59.04V48.04H56.96zM59.96 46.96H61.50V48.04H59.96zM0.96 47.96H2.04V49.04H0.96zM4.96 47.96H6.04V49.04H4.96zM6.96 47.96H8.04V49.04H6.96zM10.96 47.96H12.04V49.04H10.96zM12.96 47.96H19.04V49.04H12.96zM22.96 47.96H29.04V49.04H22.96zM30.96 47.96H32.04V49.04H30.96zM32.96 47.96H34.04V49.04H32.96zM35.96 47.96H37.04V49.04H35.96zM40.96 47.96H43.04V49.04H40.96zM44.96 47.96H47.04V49.04H44.96zM47.96 47.96H49.04V49.04H47.96zM50.96 47.96H54.04V49.04H50.96zM54.96 47.96H59.04V49.04H54.96zM-0.50 48.96H4.04V50.04H-0.50zM4.96 48.96H8.04V50.04H4.96zM10.96 48.96H13.04V50.04H10.96zM16.96 48.96H18.04V50.04H16.96zM19.96 48.96H22.04V50.04H19.96zM22.96 48.96H26.04V50.04H22.96zM27.96 48.96H29.04V50.04H27.96zM32.96 48.96H35.04V50.04H32.96zM35.96 48.96H37.04V50.04H35.96zM38.96 48.96H40.04V50.04H38.96zM40.96 48.96H42.04V50.04H40.96zM42.96 48.96H44.04V50.04H42.96zM44.96 48.96H46.04V50.04H44.96zM49.96 48.96H51.04V50.04H49.96zM51.96 48.96H53.04V50.04H51.96zM53.96 48.96H60.04V50.04H53.96zM-0.50 49.96H2.04V51.04H-0.50zM6.96 49.96H8.04V51.04H6.96zM11.96 49.96H15.04V51.04H11.96zM17.96 49.96H19.04V51.04H17.96zM20.96 49.96H24.04V51.04H20.96zM26.96 49.96H28.04V51.04H26.96zM29.96 49.96H31.04V51.04H29.96zM32.96 49.96H34.04V51.04H32.96zM37.96 49.96H39.04V51.04H37.96zM39.96 49.96H41.04V51.04H39.96zM44.96 49.96H49.04V51.04H44.96zM50.96 49.96H54.04V51.04H50.96zM54.96 49.96H56.04V51.04H54.96zM56.96 49.96H60.04V51.04H56.96zM2.96 50.96H4.04V52.04H2.96zM4.96 50.96H8.04V52.04H4.96zM11.96 50.96H14.04V52.04H11.96zM16.96 50.96H18.04V52.04H16.96zM18.96 50.96H21.04V52.04H18.96zM22.96 50.96H24.04V52.04H22.96zM25.96 50.96H30.04V52.04H25.96zM33.96 50.96H35.04V52.04H33.96zM35.96 50.96H37.04V52.04H35.96zM37.96 50.96H40.04V52.04H37.96zM41.96 50.96H43.04V52.04H41.96zM43.96 50.96H47.04V52.04H43.96zM48.96 50.96H50.04V52.04H48.96zM52.96 50.96H54.04V52.04H52.96zM54.96 50.96H56.04V52.04H54.96zM56.96 50.96H60.04V52.04H56.96zM3.96 51.96H6.04V53.04H3.96zM8.96 51.96H10.04V53.04H8.96zM10.96 51.96H13.04V53.04H10.96zM16.96 51.96H19.04V53.04H16.96zM20.96 51.96H28.04V53.04H20.96zM33.96 51.96H35.04V53.04H33.96zM35.96 51.96H41.04V53.04H35.96zM42.96 51.96H44.04V53.04H42.96zM45.96 51.96H47.04V53.04H45.96zM48.96 51.96H52.04V53.04H48.96zM56.96 51.96H58.04V53.04H56.96zM59.96 51.96H61.50V53.04H59.96zM-0.50 52.96H8.04V54.04H-0.50zM9.96 52.96H12.04V54.04H9.96zM13.96 52.96H15.04V54.04H13.96zM16.96 52.96H18.04V54.04H16.96zM18.96 52.96H20.04V54.04H18.96zM21.96 52.96H23.04V54.04H21.96zM23.96 52.96H25.04V54.04H23.96zM25.96 52.96H28.04V54.04H25.96zM28.96 52.96H32.04V54.04H28.96zM32.96 52.96H34.04V54.04H32.96zM35.96 52.96H38.04V54.04H35.96zM40.96 52.96H44.04V54.04H40.96zM44.96 52.96H48.04V54.04H44.96zM48.96 52.96H50.04V54.04H48.96zM50.96 52.96H52.04V54.04H50.96zM52.96 52.96H56.04V54.04H52.96zM57.96 52.96H60.04V54.04H57.96zM6.96 53.96H12.04V55.04H6.96zM12.96 53.96H14.04V55.04H12.96zM15.96 53.96H21.04V55.04H15.96zM22.96 53.96H25.04V55.04H22.96zM28.96 53.96H30.04V55.04H28.96zM30.96 53.96H32.04V55.04H30.96zM33.96 53.96H36.04V55.04H33.96zM36.96 53.96H38.04V55.04H36.96zM38.96 53.96H40.04V55.04H38.96zM42.96 53.96H47.04V55.04H42.96zM47.96 53.96H51.04V55.04H47.96zM52.96 53.96H54.04V55.04H52.96zM54.96 53.96H56.04V55.04H54.96zM56.96 53.96H59.04V55.04H56.96zM0.96 54.96H6.04V56.04H0.96zM6.96 54.96H9.04V56.04H6.96zM9.96 54.96H12.04V56.04H9.96zM12.96 54.96H16.04V56.04H12.96zM19.96 54.96H23.04V56.04H19.96zM23.96 54.96H25.04V56.04H23.96zM25.96 54.96H28.04V56.04H25.96zM28.96 54.96H32.04V56.04H28.96zM34.96 54.96H36.04V56.04H34.96zM37.96 54.96H42.04V56.04H37.96zM42.96 54.96H44.04V56.04H42.96zM44.96 54.96H47.04V56.04H44.96zM50.96 54.96H52.04V56.04H50.96zM52.96 54.96H56.04V56.04H52.96zM56.96 54.96H58.04V56.04H56.96zM59.96 54.96H61.50V56.04H59.96zM0.96 55.96H2.04V57.04H0.96zM4.96 55.96H6.04V57.04H4.96zM6.96 55.96H10.04V57.04H6.96zM12.96 55.96H15.04V57.04H12.96zM15.96 55.96H17.04V57.04H15.96zM17.96 55.96H20.04V57.04H17.96zM23.96 55.96H25.04V57.04H23.96zM25.96 55.96H27.04V57.04H25.96zM32.96 55.96H35.04V57.04H32.96zM35.96 55.96H39.04V57.04H35.96zM40.96 55.96H43.04V57.04H40.96zM43.96 55.96H45.04V57.04H43.96zM45.96 55.96H48.04V57.04H45.96zM48.96 55.96H50.04V57.04H48.96zM56.96 55.96H60.04V57.04H56.96zM0.96 56.96H2.04V58.04H0.96zM4.96 56.96H6.04V58.04H4.96zM6.96 56.96H8.04V58.04H6.96zM9.96 56.96H13.04V58.04H9.96zM14.96 56.96H16.04V58.04H14.96zM17.96 56.96H19.04V58.04H17.96zM19.96 56.96H21.04V58.04H19.96zM21.96 56.96H27.04V58.04H21.96zM28.96 56.96H30.04V58.04H28.96zM30.96 56.96H33.04V58.04H30.96zM33.96 56.96H35.04V58.04H33.96zM39.96 56.96H41.04V58.04H39.96zM41.96 56.96H45.04V58.04H41.96zM45.96 56.96H49.04V58.04H45.96zM49.96 56.96H52.04V58.04H49.96zM53.96 56.96H56.04V58.04H53.96zM57.96 56.96H59.04V58.04H57.96zM59.96 56.96H61.50V58.04H59.96zM0.96 57.96H2.04V59.04H0.96zM4.96 57.96H6.04V59.04H4.96zM6.96 57.96H10.04V59.04H6.96zM10.96 57.96H14.04V59.04H10.96zM14.96 57.96H16.04V59.04H14.96zM16.96 57.96H18.04V59.04H16.96zM24.96 57.96H28.04V59.04H24.96zM29.96 57.96H31.04V59.04H29.96zM32.96 57.96H36.04V59.04H32.96zM37.96 57.96H39.04V59.04H37.96zM39.96 57.96H41.04V59.04H39.96zM41.96 57.96H45.04V59.04H41.96zM49.96 57.96H53.04V59.04H49.96zM53.96 57.96H55.04V59.04H53.96zM56.96 57.96H58.04V59.04H56.96zM58.96 57.96H60.04V59.04H58.96zM0.96 58.96H6.04V60.04H0.96zM6.96 58.96H9.04V60.04H6.96zM9.96 58.96H13.04V60.04H9.96zM13.96 58.96H16.04V60.04H13.96zM19.96 58.96H21.04V60.04H19.96zM21.96 58.96H27.04V60.04H21.96zM29.96 58.96H32.04V60.04H29.96zM37.96 58.96H39.04V60.04H37.96zM41.96 58.96H43.04V60.04H41.96zM43.96 58.96H47.04V60.04H43.96zM48.96 58.96H51.04V60.04H48.96zM53.96 58.96H55.04V60.04H53.96zM57.96 58.96H61.50V60.04H57.96zM6.96 59.96H11.04V61.50H6.96zM14.96 59.96H16.04V61.50H14.96zM16.96 59.96H24.04V61.50H16.96zM24.96 59.96H27.04V61.50H24.96zM29.96 59.96H32.04V61.50H29.96zM32.96 59.96H34.04V61.50H32.96zM34.96 59.96H39.04V61.50H34.96zM49.96 59.96H52.04V61.50H49.96zM53.96 59.96H57.04V61.50H53.96zM57.96 59.96H59.04V61.50H57.96z"/></svg>
</header>
<div class="r" style="left:0.0px;top:476.0px;width:2160.0px;height:8.0px;background:#000;"></div>
<section>
<div class="r" style="left:21.8px;top:510.5px;width:444.7px;height:214.2px;background:#c09c30;border-radius:37px;"></div>
<div class="r" style="left:507.0px;top:510.5px;width:444.7px;height:214.2px;background:#c09c30;border-radius:37px;"></div>
<div class="r" style="left:997.3px;top:510.5px;width:444.6px;height:214.2px;background:#c09c30;border-radius:37px;"></div>
<div class="r" style="left:1476.0px;top:510.5px;width:660.1px;height:214.2px;background:#c09c30;border-radius:37px;"></div>
<p class="t" style="left:57.8px;top:533.5px;font-size:44.4px;font-style:italic;color:#fff;transform:scaleX(1.0616);-webkit-text-stroke:0.7px #c09c30;">Q-to-Q</p>
<p class="t" style="left:114.9px;top:596.7px;font-size:79.0px;font-weight:700;color:#fff;letter-spacing:2px;transform:scaleX(1.1639);-webkit-text-stroke:3px #fff;stroke-linejoin:round;">3,91%</p>
<p class="t" style="left:557.7px;top:533.5px;font-size:44.4px;font-style:italic;color:#fff;transform:scaleX(0.9748);-webkit-text-stroke:0.7px #c09c30;">Y-on-Y</p>
<p class="t" style="left:595.1px;top:596.7px;font-size:79.0px;font-weight:700;color:#fff;letter-spacing:2px;transform:scaleX(1.1690);-webkit-text-stroke:3px #fff;stroke-linejoin:round;">2,82%</p>
<p class="t" style="left:1042.5px;top:533.5px;font-size:44.4px;font-style:italic;color:#fff;transform:scaleX(1.0364);-webkit-text-stroke:0.7px #c09c30;">C-to-C</p>
<p class="t" style="left:1073.0px;top:596.7px;font-size:79.0px;font-weight:700;color:#fff;letter-spacing:2px;transform:scaleX(1.1723);-webkit-text-stroke:3px #fff;stroke-linejoin:round;">0,22%</p>
<span class="t" style="left:1524.8px;top:540.9px;font-size:31.7px;color:#fff;transform:scaleX(0.9918);-webkit-text-stroke:0.3px #fff;stroke-linejoin:round;">PDRB</span>
<span class="t" style="left:1622.9px;top:540.9px;font-size:31.7px;color:#fff;transform:scaleX(0.9482);-webkit-text-stroke:0.3px #fff;stroke-linejoin:round;">ATAS</span>
<span class="t" style="left:1705.9px;top:540.9px;font-size:31.7px;color:#fff;transform:scaleX(0.9797);-webkit-text-stroke:0.3px #fff;stroke-linejoin:round;">DASAR</span>
<span class="t" style="left:1822.6px;top:540.9px;font-size:31.7px;color:#fff;transform:scaleX(0.9643);-webkit-text-stroke:0.3px #fff;stroke-linejoin:round;">HARGA</span>
<span class="t" style="left:1941.6px;top:540.9px;font-size:31.7px;color:#fff;transform:scaleX(0.9781);-webkit-text-stroke:0.3px #fff;stroke-linejoin:round;">BERLAKU</span>
<span class="t" style="left:1505.4px;top:607.7px;font-size:68.3px;font-weight:700;color:#fff;letter-spacing:1.5px;transform:scaleX(1.1047);-webkit-text-stroke:3px #fff;stroke-linejoin:round;">Rp</span>
<span class="t" style="left:1633.5px;top:607.7px;font-size:68.3px;font-weight:700;color:#fff;letter-spacing:1.5px;transform:scaleX(1.2147);-webkit-text-stroke:3px #fff;stroke-linejoin:round;">49,49</span>
<span class="t" style="left:1875.4px;top:607.7px;font-size:68.3px;font-weight:700;color:#fff;letter-spacing:1.5px;transform:scaleX(1.1498);-webkit-text-stroke:3px #fff;stroke-linejoin:round;">Triliun</span>
</section>
<section>
<h2>
<span class="t" style="left:29.3px;top:809.9px;font-size:44.2px;font-weight:700;transform:scaleX(1.0081);-webkit-text-stroke:0.5px #fff;">Pertumbuhan</span>
<span class="t" style="left:325.3px;top:809.9px;font-size:44.2px;font-weight:700;transform:scaleX(0.9610);-webkit-text-stroke:0.5px #fff;">PDRB</span>
<span class="t" style="left:454.9px;top:809.9px;font-size:44.2px;font-weight:700;transform:scaleX(0.9542);-webkit-text-stroke:0.5px #fff;">NTB</span>
<span class="t" style="left:553.7px;top:809.9px;font-size:44.2px;font-weight:700;transform:scaleX(0.9213);-webkit-text-stroke:0.5px #fff;">(</span><span class="t" style="left:569.6px;top:809.9px;font-size:44.2px;font-weight:700;font-style:italic;transform:scaleX(0.9867);-webkit-text-stroke:0.5px #fff;">y-on-y</span><span class="t" style="left:700.6px;top:809.9px;font-size:44.2px;font-weight:700;transform:scaleX(0.9214);-webkit-text-stroke:0.5px #fff;">)</span>
<span class="t" style="left:726.9px;top:809.9px;font-size:44.2px;font-weight:700;transform:scaleX(1.0132);-webkit-text-stroke:0.5px #fff;">2021-2025</span>
</h2>
<svg width="2160" height="2700" viewBox="0 0 2160 2700"><path d="M62.3 1356.1H2097.8M62.3 1356.1v7.5M115.9 1356.1v7.5M169.4 1356.1v7.5M223.0 1356.1v7.5M276.6 1356.1v7.5M330.1 1356.1v7.5M383.7 1356.1v7.5M437.3 1356.1v7.5M490.8 1356.1v7.5M544.4 1356.1v7.5M598.0 1356.1v7.5M651.5 1356.1v7.5M705.1 1356.1v7.5M758.7 1356.1v7.5M812.2 1356.1v7.5M865.8 1356.1v7.5M919.4 1356.1v7.5M972.9 1356.1v7.5M1026.5 1356.1v7.5M1080.1 1356.1v7.5M1133.6 1356.1v7.5M1187.2 1356.1v7.5M1240.7 1356.1v7.5M1294.3 1356.1v7.5M1347.9 1356.1v7.5M1401.4 1356.1v7.5M1455.0 1356.1v7.5M1508.6 1356.1v7.5M1562.1 1356.1v7.5M1615.7 1356.1v7.5M1669.3 1356.1v7.5M1722.8 1356.1v7.5M1776.4 1356.1v7.5M1830.0 1356.1v7.5M1883.5 1356.1v7.5M1937.1 1356.1v7.5M1990.7 1356.1v7.5M2044.2 1356.1v7.5M2097.8 1356.1v7.5" stroke="#d9d9d9" stroke-width="1.900" fill="none"/><polyline fill="none" stroke="#fdc010" stroke-width="6.4" stroke-linejoin="round" stroke-linecap="round" points="115.9,1406.3 223.0,1151.3 330.1,1252.0 437.3,1220.3 544.4,1024.4 651.5,1099.0 758.7,1051.4 865.8,1054.0 972.9,1203.5 1080.1,1421.7 1187.2,1288.0 1294.3,1198.8 1401.4,1152.1 1508.6,881.7 1615.7,1089.1 1722.8,1377.1 1830.0,1417.0 1937.1,1390.8 2044.2,1234.8"/><g fill="#fdc010"><circle cx="115.9" cy="1406.3" r="12.2"/><circle cx="223.0" cy="1151.3" r="12.2"/><circle cx="330.1" cy="1252.0" r="12.2"/><circle cx="437.3" cy="1220.3" r="12.2"/><circle cx="544.4" cy="1024.4" r="12.2"/><circle cx="651.5" cy="1099.0" r="12.2"/><circle cx="758.7" cy="1051.4" r="12.2"/><circle cx="865.8" cy="1054.0" r="12.2"/><circle cx="972.9" cy="1203.5" r="12.2"/><circle cx="1080.1" cy="1421.7" r="12.2"/><circle cx="1187.2" cy="1288.0" r="12.2"/><circle cx="1294.3" cy="1198.8" r="12.2"/><circle cx="1401.4" cy="1152.1" r="12.2"/><circle cx="1508.6" cy="881.7" r="12.2"/><circle cx="1615.7" cy="1089.1" r="12.2"/><circle cx="1722.8" cy="1377.1" r="12.2"/><circle cx="1830.0" cy="1417.0" r="12.2"/><circle cx="1937.1" cy="1390.8" r="12.2"/><circle cx="2044.2" cy="1234.8" r="12.2"/></g></svg>
<span class="t" style="left:90.5px;top:1359.4px;font-size:21.5px;color:#111;transform:scaleX(1.0350);">-1,18</span>
<span class="t" style="left:201.3px;top:1104.4px;font-size:21.5px;color:#111;transform:scaleX(1.0350);">4,77</span>
<span class="t" style="left:308.5px;top:1205.1px;font-size:21.5px;color:#111;transform:scaleX(1.0350);">2,42</span>
<span class="t" style="left:415.6px;top:1173.4px;font-size:21.5px;color:#111;transform:scaleX(1.0350);">3,16</span>
<span class="t" style="left:522.7px;top:977.5px;font-size:21.5px;color:#111;transform:scaleX(1.0350);">7,73</span>
<span class="t" style="left:629.9px;top:1052.1px;font-size:21.5px;color:#111;transform:scaleX(1.0350);">5,99</span>
<span class="t" style="left:737.0px;top:1004.5px;font-size:21.5px;color:#111;transform:scaleX(1.0350);">7,10</span>
<span class="t" style="left:844.1px;top:1007.1px;font-size:21.5px;color:#111;transform:scaleX(1.0350);">7,04</span>
<span class="t" style="left:951.3px;top:1156.6px;font-size:21.5px;color:#111;transform:scaleX(1.0350);">3,55</span>
<span class="t" style="left:1054.7px;top:1374.8px;font-size:21.5px;color:#111;transform:scaleX(1.0350);">-1,54</span>
<span class="t" style="left:1165.5px;top:1241.1px;font-size:21.5px;color:#111;transform:scaleX(1.0350);">1,58</span>
<span class="t" style="left:1272.7px;top:1151.9px;font-size:21.5px;color:#111;transform:scaleX(1.0350);">3,66</span>
<span class="t" style="left:1379.8px;top:1105.2px;font-size:21.5px;color:#111;transform:scaleX(1.0350);">4,75</span>
<span class="t" style="left:1481.6px;top:834.8px;font-size:21.5px;color:#111;transform:scaleX(1.0350);">11,06</span>
<span class="t" style="left:1594.1px;top:1042.2px;font-size:21.5px;color:#111;transform:scaleX(1.0350);">6,22</span>
<span class="t" style="left:1697.5px;top:1330.2px;font-size:21.5px;color:#111;transform:scaleX(1.0350);">-0,50</span>
<span class="t" style="left:1804.6px;top:1370.1px;font-size:21.5px;color:#111;transform:scaleX(1.0350);">-1,43</span>
<span class="t" style="left:1911.7px;top:1343.9px;font-size:21.5px;color:#111;transform:scaleX(1.0350);">-0,82</span>
<span class="t" style="left:2022.6px;top:1187.9px;font-size:21.5px;color:#111;transform:scaleX(1.0350);">2,82</span>
<span class="t" style="left:71.3px;top:1546.8px;font-size:22.2px;color:#181818;transform:scaleX(0.9350);">Triwulan I</span>
<span class="t" style="left:91.6px;top:1575.7px;font-size:21.7px;color:#181818;transform:scaleX(1.0067);">2021</span>
<span class="t" style="left:175.5px;top:1546.8px;font-size:22.2px;color:#181818;transform:scaleX(0.9350);">Triwulan II</span>
<span class="t" style="left:198.7px;top:1575.7px;font-size:21.7px;color:#181818;transform:scaleX(1.0067);">2021</span>
<span class="t" style="left:279.8px;top:1546.8px;font-size:22.2px;color:#181818;transform:scaleX(0.9350);">Triwulan III</span>
<span class="t" style="left:305.8px;top:1575.7px;font-size:21.7px;color:#181818;transform:scaleX(1.0067);">2021</span>
<span class="t" style="left:385.7px;top:1546.8px;font-size:22.2px;color:#181818;transform:scaleX(0.9350);">Triwulan IV</span>
<span class="t" style="left:413.0px;top:1575.7px;font-size:21.7px;color:#181818;transform:scaleX(1.0067);">2021</span>
<span class="t" style="left:499.8px;top:1546.8px;font-size:22.2px;color:#181818;transform:scaleX(0.9350);">Triwulan I</span>
<span class="t" style="left:520.1px;top:1575.7px;font-size:21.7px;color:#181818;transform:scaleX(1.0079);">2022</span>
<span class="t" style="left:604.0px;top:1546.8px;font-size:22.2px;color:#181818;transform:scaleX(0.9350);">Triwulan II</span>
<span class="t" style="left:627.2px;top:1575.7px;font-size:21.7px;color:#181818;transform:scaleX(1.0079);">2022</span>
<span class="t" style="left:708.3px;top:1546.8px;font-size:22.2px;color:#181818;transform:scaleX(0.9350);">Triwulan III</span>
<span class="t" style="left:734.4px;top:1575.7px;font-size:21.7px;color:#181818;transform:scaleX(1.0079);">2022</span>
<span class="t" style="left:814.3px;top:1546.8px;font-size:22.2px;color:#181818;transform:scaleX(0.9350);">Triwulan IV</span>
<span class="t" style="left:841.5px;top:1575.7px;font-size:21.7px;color:#181818;transform:scaleX(1.0079);">2022</span>
<span class="t" style="left:928.3px;top:1546.8px;font-size:22.2px;color:#181818;transform:scaleX(0.9350);">Triwulan I</span>
<span class="t" style="left:941.9px;top:1575.7px;font-size:21.7px;color:#181818;transform:scaleX(1.0043);">2023</span><span class="t" style="left:990.7px;top:1575.9px;font-size:21.5px;color:#181818;letter-spacing:3.2px;transform:scaleX(1.2709);">*</span>
<span class="t" style="left:1032.6px;top:1546.8px;font-size:22.2px;color:#181818;transform:scaleX(0.9350);">Triwulan II</span>
<span class="t" style="left:1049.0px;top:1575.7px;font-size:21.7px;color:#181818;transform:scaleX(1.0043);">2023</span><span class="t" style="left:1097.8px;top:1575.9px;font-size:21.5px;color:#181818;letter-spacing:3.2px;transform:scaleX(1.2709);">*</span>
<span class="t" style="left:1136.8px;top:1546.8px;font-size:22.2px;color:#181818;transform:scaleX(0.9350);">Triwulan III</span>
<span class="t" style="left:1156.1px;top:1575.7px;font-size:21.7px;color:#181818;transform:scaleX(1.0043);">2023</span><span class="t" style="left:1205.0px;top:1575.9px;font-size:21.5px;color:#181818;letter-spacing:3.2px;transform:scaleX(1.2709);">*</span>
<span class="t" style="left:1242.8px;top:1546.8px;font-size:22.2px;color:#181818;transform:scaleX(0.9350);">Triwulan IV</span>
<span class="t" style="left:1263.3px;top:1575.7px;font-size:21.7px;color:#181818;transform:scaleX(1.0043);">2023</span><span class="t" style="left:1312.1px;top:1575.9px;font-size:21.5px;color:#181818;letter-spacing:3.2px;transform:scaleX(1.2709);">*</span>
<span class="t" style="left:1356.8px;top:1546.8px;font-size:22.2px;color:#181818;transform:scaleX(0.9350);">Triwulan I</span>
<span class="t" style="left:1364.8px;top:1575.7px;font-size:21.7px;color:#181818;transform:scaleX(0.9973);">2024</span><span class="t" style="left:1413.6px;top:1575.9px;font-size:21.5px;color:#181818;letter-spacing:3.2px;transform:scaleX(1.0928);">**</span>
<span class="t" style="left:1461.1px;top:1546.8px;font-size:22.2px;color:#181818;transform:scaleX(0.9350);">Triwulan II</span>
<span class="t" style="left:1471.9px;top:1575.7px;font-size:21.7px;color:#181818;transform:scaleX(0.9973);">2024</span><span class="t" style="left:1520.8px;top:1575.9px;font-size:21.5px;color:#181818;letter-spacing:3.2px;transform:scaleX(1.0928);">**</span>
<span class="t" style="left:1565.3px;top:1546.8px;font-size:22.2px;color:#181818;transform:scaleX(0.9350);">Triwulan III</span>
<span class="t" style="left:1579.0px;top:1575.7px;font-size:21.7px;color:#181818;transform:scaleX(0.9973);">2024</span><span class="t" style="left:1627.9px;top:1575.9px;font-size:21.5px;color:#181818;letter-spacing:3.2px;transform:scaleX(1.0928);">**</span>
<span class="t" style="left:1671.3px;top:1546.8px;font-size:22.2px;color:#181818;transform:scaleX(0.9350);">Triwulan IV</span>
<span class="t" style="left:1686.2px;top:1575.7px;font-size:21.7px;color:#181818;transform:scaleX(0.9973);">2024</span><span class="t" style="left:1735.0px;top:1575.9px;font-size:21.5px;color:#181818;letter-spacing:3.2px;transform:scaleX(1.0928);">**</span>
<span class="t" style="left:1785.4px;top:1546.8px;font-size:22.2px;color:#181818;transform:scaleX(0.9350);">Triwulan I</span>
<span class="t" style="left:1787.6px;top:1575.7px;font-size:21.7px;color:#181818;transform:scaleX(1.0032);">2025</span><span class="t" style="left:1836.5px;top:1575.9px;font-size:21.5px;color:#181818;letter-spacing:3.2px;transform:scaleX(1.0504);">***</span>
<span class="t" style="left:1889.6px;top:1546.8px;font-size:22.2px;color:#181818;transform:scaleX(0.9350);">Triwulan II</span>
<span class="t" style="left:1894.8px;top:1575.7px;font-size:21.7px;color:#181818;transform:scaleX(1.0032);">2025</span><span class="t" style="left:1943.7px;top:1575.9px;font-size:21.5px;color:#181818;letter-spacing:3.2px;transform:scaleX(1.0504);">***</span>
<span class="t" style="left:1993.9px;top:1546.8px;font-size:22.2px;color:#181818;transform:scaleX(0.9350);">Triwulan III</span>
<span class="t" style="left:2001.9px;top:1575.7px;font-size:21.7px;color:#181818;transform:scaleX(1.0032);">2025</span><span class="t" style="left:2050.8px;top:1575.9px;font-size:21.5px;color:#181818;letter-spacing:3.2px;transform:scaleX(1.0504);">***</span>
</section>
<svg width="2160" height="2700" viewBox="0 0 2160 2700"><g stroke="#f5c8c0" fill="none"><path d="M0.9 1651.7H2160" stroke-width="4.3" stroke-dasharray="4.06 4"/><path d="M1051 1664.3V2531" stroke-width="4" stroke-dasharray="4 4" stroke-opacity="0.85"/><path d="M1043.5 1656.3h15M1043.2 2533.4h15.600" stroke-width="3"/></g></svg>
<section>
<h2>
<span class="t" style="left:58.4px;top:1687.8px;font-size:44.2px;font-weight:700;transform:scaleX(1.0092);-webkit-text-stroke:0.5px #fff;">Pertumbuhan</span>
<span class="t" style="left:355.7px;top:1687.8px;font-size:44.2px;font-weight:700;transform:scaleX(0.9443);-webkit-text-stroke:0.5px #fff;">PDRB</span>
<span class="t" style="left:485.7px;top:1687.8px;font-size:44.2px;font-weight:700;transform:scaleX(0.9623);-webkit-text-stroke:0.5px #fff;">Terbesar</span>
<span class="t" style="left:677.9px;top:1687.8px;font-size:44.2px;font-weight:700;transform:scaleX(1.0336);-webkit-text-stroke:0.5px #fff;">Menurut</span>
<span class="t" style="left:58.2px;top:1745.8px;font-size:44.2px;font-weight:700;transform:scaleX(0.9747);-webkit-text-stroke:0.5px #fff;">Lapangan</span>
<span class="t" style="left:272.0px;top:1745.8px;font-size:44.2px;font-weight:700;transform:scaleX(0.9498);-webkit-text-stroke:0.5px #fff;">Usaha</span>
<span class="t" style="left:413.2px;top:1745.8px;font-size:44.2px;font-weight:700;transform:scaleX(0.9825);-webkit-text-stroke:0.5px #fff;">Triwulan</span>
<span class="t" style="left:598.5px;top:1745.8px;font-size:44.2px;font-weight:700;transform:scaleX(1.0804);-webkit-text-stroke:0.5px #fff;">III-2025</span>
<span class="t" style="left:771.5px;top:1745.8px;font-size:44.2px;font-weight:700;transform:scaleX(0.9694);-webkit-text-stroke:0.5px #fff;">(</span><span class="t" style="left:788.1px;top:1745.8px;font-size:44.2px;font-weight:700;font-style:italic;transform:scaleX(1.0060);-webkit-text-stroke:0.5px #fff;">y-on-y)</span>
</h2>
<svg width="2160" height="2700" viewBox="0 0 2160 2700"><rect x="125.8" y="1883.0" width="58.2" height="358.4" fill="#c09c30"/><rect x="309.9" y="2205.4" width="58.2" height="36.0" fill="#c09c30"/><rect x="494.0" y="2205.8" width="58.2" height="35.6" fill="#c09c30"/><rect x="678.1" y="2211.3" width="58.2" height="30.1" fill="#c09c30"/><rect x="862.2" y="2218.6" width="58.2" height="22.8" fill="#c09c30"/><rect x="62.6" y="2240.3" width="920.4" height="2.2" fill="#d9d9d9"/></svg>
<span class="t" style="left:125.9px;top:1846.9px;font-size:22.0px;color:#111;transform:scaleX(1.0508);">66,65</span>
<span class="t" style="left:116.0px;top:2261.2px;font-size:22.7px;color:#1a1a1a;transform:scaleX(1.0371);">Industri</span>
<span class="t" style="left:96.3px;top:2290.9px;font-size:22.7px;color:#1a1a1a;transform:scaleX(0.9632);">Pengolahan</span>
<span class="t" style="left:316.7px;top:2169.3px;font-size:22.0px;color:#111;transform:scaleX(1.0389);">6,70</span>
<span class="t" style="left:267.4px;top:2261.2px;font-size:22.7px;color:#1a1a1a;transform:scaleX(0.9135);">Jasa Keuangan</span>
<span class="t" style="left:500.8px;top:2169.7px;font-size:22.0px;color:#111;transform:scaleX(1.0459);">6,62</span>
<span class="t" style="left:462.3px;top:2261.2px;font-size:22.7px;color:#1a1a1a;transform:scaleX(0.9947);">Administrasi</span>
<span class="t" style="left:450.1px;top:2290.9px;font-size:22.7px;color:#1a1a1a;transform:scaleX(0.9893);">Pemerintahan,</span>
<span class="t" style="left:444.9px;top:2320.6px;font-size:22.7px;color:#1a1a1a;transform:scaleX(0.9648);">Pertahanan dan</span>
<span class="t" style="left:450.3px;top:2350.3px;font-size:22.7px;color:#1a1a1a;transform:scaleX(0.9521);">Jaminan Sosial</span>
<span class="t" style="left:496.0px;top:2380.0px;font-size:22.7px;color:#1a1a1a;transform:scaleX(0.9816);">Wajib</span>
<span class="t" style="left:685.1px;top:2175.2px;font-size:22.0px;color:#111;transform:scaleX(1.0375);">5,59</span>
<span class="t" style="left:654.5px;top:2261.2px;font-size:22.7px;color:#1a1a1a;transform:scaleX(0.9906);">Konstruksi</span>
<span class="t" style="left:869.6px;top:2182.5px;font-size:22.0px;color:#111;transform:scaleX(1.0183);">4,24</span>
<span class="t" style="left:826.6px;top:2261.2px;font-size:22.7px;color:#1a1a1a;transform:scaleX(0.9451);">Perdagangan</span>
<span class="t" style="left:802.3px;top:2290.9px;font-size:22.7px;color:#1a1a1a;transform:scaleX(0.9462);">Besar dan Eceran,</span>
<span class="t" style="left:827.4px;top:2320.6px;font-size:22.7px;color:#1a1a1a;transform:scaleX(0.9484);">dan Reparasi</span>
<span class="t" style="left:803.2px;top:2350.3px;font-size:22.7px;color:#1a1a1a;transform:scaleX(0.9517);">Mobil dan Sepeda</span>
<span class="t" style="left:861.5px;top:2380.0px;font-size:22.7px;color:#1a1a1a;transform:scaleX(0.9978);">Motor</span>
<svg width="2160" height="2700" viewBox="0 0 2160 2700"><path d="M1004.700 2334.900Q1007.800 2335.500 1007.800 2339.200V2345.500" fill="none" stroke="#000" stroke-width="3.200" stroke-linecap="round"/></svg>
</section>
<section>
<h2>
<span class="t" style="left:1110.9px;top:1687.8px;font-size:44.2px;font-weight:700;transform:scaleX(1.0074);-webkit-text-stroke:0.5px #fff;">Pertumbuhan</span>
<span class="t" style="left:1408.1px;top:1687.8px;font-size:44.2px;font-weight:700;transform:scaleX(0.9435);-webkit-text-stroke:0.5px #fff;">PDRB</span>
<span class="t" style="left:1536.6px;top:1687.8px;font-size:44.2px;font-weight:700;transform:scaleX(1.0336);-webkit-text-stroke:0.5px #fff;">Menurut</span>
<span class="t" style="left:1726.5px;top:1687.8px;font-size:44.2px;font-weight:700;transform:scaleX(0.9900);-webkit-text-stroke:0.5px #fff;">Pengeluaran</span>
<span class="t" style="left:1111.9px;top:1745.8px;font-size:44.2px;font-weight:700;transform:scaleX(0.9939);-webkit-text-stroke:0.5px #fff;">Triwulan</span>
<span class="t" style="left:1299.5px;top:1745.8px;font-size:44.2px;font-weight:700;transform:scaleX(1.0790);-webkit-text-stroke:0.5px #fff;">III-2025</span>
<span class="t" style="left:1472.5px;top:1745.8px;font-size:44.2px;font-weight:700;transform:scaleX(0.9694);-webkit-text-stroke:0.5px #fff;">(</span><span class="t" style="left:1489.1px;top:1745.8px;font-size:44.2px;font-weight:700;font-style:italic;transform:scaleX(1.0101);-webkit-text-stroke:0.5px #fff;">y-on-y)</span>
</h2>
<svg width="2160" height="2700" viewBox="0 0 2160 2700"><rect x="1171.1" y="1925.2" width="51.6" height="48.0" fill="#c09c30"/><rect x="1336.0" y="1961.3" width="51.6" height="11.9" fill="#c09c30"/><rect x="1500.9" y="1910.6" width="51.6" height="62.6" fill="#c09c30"/><rect x="1665.8" y="1938.0" width="51.6" height="35.2" fill="#c09c30"/><rect x="1830.7" y="1973.2" width="51.6" height="283.0" fill="#c09c30"/><rect x="1995.6" y="1973.2" width="51.6" height="201.4" fill="#3b3b3b"/><rect x="1114.4" y="1972.1" width="989.4" height="2.2" fill="#d9d9d9"/></svg>
<span class="t" style="left:1173.7px;top:1886.4px;font-size:23.4px;color:#111;transform:scaleX(1.0311);">4,51</span>
<span class="t" style="left:1129.9px;top:2313.5px;font-size:24.0px;color:#1a1a1a;transform:scaleX(0.9811);">Pengeluaran</span>
<span class="t" style="left:1144.0px;top:2345.4px;font-size:24.0px;color:#1a1a1a;">Konsumsi</span>
<span class="t" style="left:1119.1px;top:2377.3px;font-size:24.0px;color:#1a1a1a;transform:scaleX(0.9465);">Rumah Tangga</span>
<span class="t" style="left:1337.3px;top:1922.5px;font-size:23.4px;color:#111;transform:scaleX(1.0622);">1,12</span>
<span class="t" style="left:1294.8px;top:2313.5px;font-size:24.0px;color:#1a1a1a;transform:scaleX(0.9811);">Pengeluaran</span>
<span class="t" style="left:1308.9px;top:2345.4px;font-size:24.0px;color:#1a1a1a;">Konsumsi</span>
<span class="t" style="left:1326.5px;top:2377.3px;font-size:24.0px;color:#1a1a1a;transform:scaleX(0.8848);">LNPRT</span>
<span class="t" style="left:1503.1px;top:1871.8px;font-size:23.4px;color:#111;transform:scaleX(1.0394);">5,89</span>
<span class="t" style="left:1459.7px;top:2313.5px;font-size:24.0px;color:#1a1a1a;transform:scaleX(0.9811);">Pengeluaran</span>
<span class="t" style="left:1473.8px;top:2345.4px;font-size:24.0px;color:#1a1a1a;">Konsumsi</span>
<span class="t" style="left:1465.2px;top:2377.3px;font-size:24.0px;color:#1a1a1a;transform:scaleX(0.9973);">Pemerintah</span>
<span class="t" style="left:1668.0px;top:1899.2px;font-size:23.4px;color:#111;transform:scaleX(1.0394);">3,31</span>
<span class="t" style="left:1617.2px;top:2313.5px;font-size:24.0px;color:#1a1a1a;">Pembentukan</span>
<span class="t" style="left:1626.3px;top:2345.4px;font-size:24.0px;color:#1a1a1a;transform:scaleX(0.9939);">Modal Tetap</span>
<span class="t" style="left:1661.9px;top:2377.3px;font-size:24.0px;color:#1a1a1a;transform:scaleX(1.0143);">Bruto</span>
<span class="t" style="left:1821.7px;top:2275.0px;font-size:23.4px;color:#111;transform:scaleX(1.0496);">-26,61</span>
<span class="t" style="left:1779.6px;top:2313.5px;font-size:24.0px;color:#1a1a1a;transform:scaleX(0.9657);">Ekspor Barang</span>
<span class="t" style="left:1811.4px;top:2345.4px;font-size:24.0px;color:#1a1a1a;transform:scaleX(0.9147);">dan Jasa</span>
<span class="t" style="left:1986.6px;top:2193.4px;font-size:23.4px;color:#111;transform:scaleX(1.0420);">-18,94</span>
<span class="t" style="left:1949.0px;top:2313.5px;font-size:24.0px;color:#1a1a1a;transform:scaleX(0.9904);">Impor Barang</span>
<span class="t" style="left:1976.3px;top:2345.4px;font-size:24.0px;color:#1a1a1a;transform:scaleX(0.9147);">dan Jasa</span>
</section>
<footer>
<div class="r" style="left:0.0px;top:2535.8px;width:2160.0px;height:161.8px;background:#c09c30;"></div>
<svg width="2160" height="2700" viewBox="0 0 2160 2700"><rect x="250.800" y="2580" width="72.700" height="73" rx="17.500" fill="#000"/><rect x="265.900" y="2594.600" width="43.300" height="43.800" rx="9.500" fill="none" stroke="#c09c30" stroke-width="4.800"/><circle cx="287.200" cy="2616.500" r="8.700" fill="none" stroke="#c09c30" stroke-width="5"/><circle cx="299.800" cy="2603.900" r="2.700" fill="#c09c30"/><rect x="336.500" y="2581" width="71.500" height="71" rx="20.500" fill="#000"/><path d="M357.500 2600.300Q372.200 2599.300 386.900 2600.300Q393.600 2600.800 394.100 2607.500Q394.700 2616.800 394.100 2626.100Q393.600 2632.800 386.900 2633.300Q372.200 2634.300 357.500 2633.300Q350.800 2632.800 350.300 2626.100Q349.700 2616.800 350.300 2607.500Q350.800 2600.800 357.500 2600.300Z" fill="#c09c30"/><path d="M367.700 2610.100L379.500 2616.500L367.700 2622.900Z" fill="#000"/><rect x="421.700" y="2580.100" width="71.300" height="71.900" rx="11" fill="#000"/><path d="M453 2652.500V2627.200H444.200V2613.300H453V2607C453 2597.500 458.500 2592.400 468 2592.400C472 2592.400 476 2592.700 478.900 2593.200V2605.500H473C467.500 2605.500 465.800 2607.500 465.800 2611V2613.300H478.600L476.500 2627.200H465.800V2652.500Z" fill="#c09c30"/><rect x="507" y="2580.100" width="71.500" height="71.900" rx="13" fill="#000"/><path transform="translate(519.300,2594.200) scale(1.980)" d="M23.950 4.570a10 10 0 0 1-2.820.770 4.960 4.960 0 0 0 2.160-2.720c-.950.550-2 .960-3.130 1.190a4.920 4.920 0 0 0-8.380 4.480C7.690 8.100 4.070 6.130 1.640 3.160a4.820 4.820 0 0 0-.670 2.480c0 1.710.870 3.210 2.190 4.100a4.900 4.900 0 0 1-2.230-.620v.060a4.930 4.930 0 0 0 3.950 4.830 4.960 4.960 0 0 1-2.210.080 4.940 4.940 0 0 0 4.600 3.420A9.870 9.870 0 0 1 0 19.540a14 14 0 0 0 7.560 2.210c9.050 0 14-7.500 14-13.990 0-.210 0-.420-.020-.630a9.940 9.940 0 0 0 2.460-2.550z" fill="#c09c30"/><circle cx="938.400" cy="2617.300" r="37.400" fill="#000"/><g fill="none" stroke="#c09c30"><circle cx="938.400" cy="2617.400" r="21.200" stroke-width="5.700"/><ellipse cx="938.400" cy="2617.400" rx="8.600" ry="21" stroke-width="5.200"/><path d="M918 2617.500h41" stroke-width="5"/></g><g><path d="M1550.300 2607.300C1541 2612.500 1535.300 2621 1535.700 2629.700C1536.200 2640 1545 2648.500 1557.600 2651.100C1563 2652.200 1569 2652.300 1575.300 2651.600C1592 2649.800 1610 2642.500 1623.300 2633.900C1609 2640.500 1592 2647 1575.300 2649C1569 2649.700 1563.500 2649.300 1558.600 2648C1549.500 2645 1543.200 2638.500 1542 2629.700C1541.200 2622.500 1546.500 2615 1555.500 2609.800Z" fill="#1a98e6"/><path d="M1553.900 2580.700H1570.100L1565.900 2605.500L1583.700 2605.900L1578.600 2631.800H1556.500Q1562 2631 1563.300 2627.600L1566.400 2607.600L1548 2606.900Z" fill="#1a98e6"/><path d="M1608.700 2581.200C1624 2581.500 1637.500 2590.500 1637.900 2604.700C1638.100 2613 1634.500 2621 1629.600 2627.600C1631.500 2621 1632.300 2613.500 1631.300 2607C1629.500 2596 1621 2590.500 1608 2589.500Z" fill="#f58a1f" fill-opacity="0.800"/><path d="M1593 2580.700H1608.700L1606.800 2599.400H1620.200L1616 2631.800H1601.400L1605.300 2601.700L1588.400 2602.600Z" fill="#f58a1f"/><path d="M1587.800 2610.900L1602.400 2609.900L1597.700 2636L1581.600 2634.900ZM1561.200 2637L1576.900 2636.500L1572.200 2661.500L1555.500 2662Z" fill="#5cb833"/></g></svg>
<span class="t" style="left:593.5px;top:2602.6px;font-size:34.0px;font-weight:700;transform:scaleX(0.9753);">@bpsntb</span>
<span class="t" style="left:991.9px;top:2602.6px;font-size:34.0px;font-weight:700;transform:scaleX(0.9805);">https://ntb.bps.go.id</span>
<span class="t" style="left:1647.2px;top:2590.4px;font-size:23.7px;font-weight:700;font-style:italic;transform:scaleX(0.9958);">BADAN PUSAT STATISTIK</span>
<span class="t" style="left:1646.6px;top:2616.1px;font-size:23.7px;font-weight:700;font-style:italic;transform:scaleX(1.0056);">PROVINSI NUSA TENGGARA BARAT</span>
</footer>
</body>
</html>
